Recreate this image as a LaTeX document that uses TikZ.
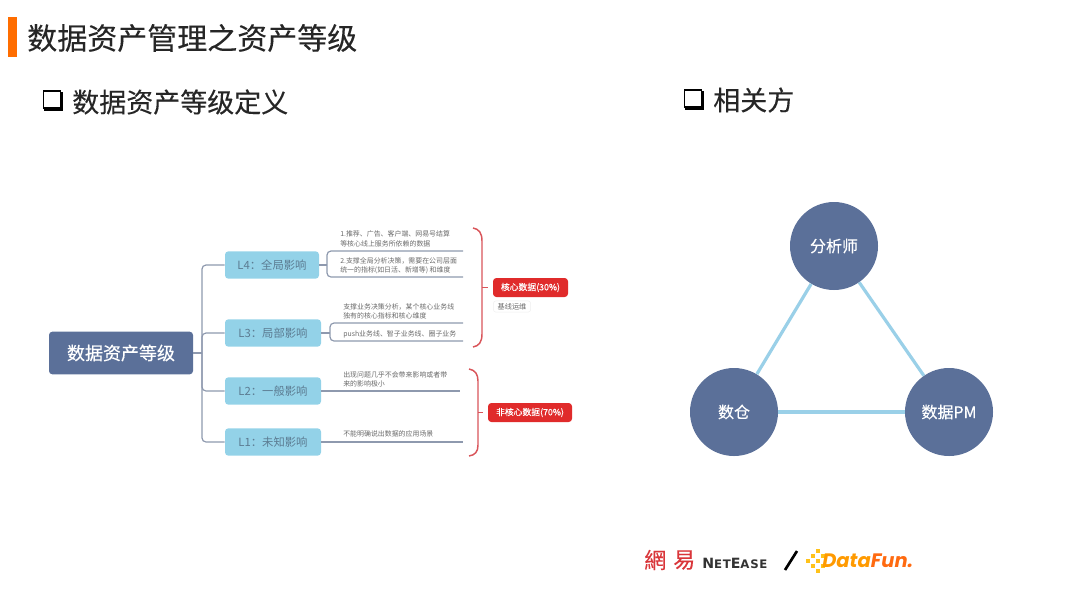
\documentclass[tikz,border=0pt]{standalone}
\usepackage{fontspec}
\setmainfont{Noto Sans CJK SC}
\newfontfamily\medfont[FakeBold=0.35]{Noto Sans CJK SC}
\newfontfamily\headfont[FakeBold=0.15]{Noto Sans CJK SC}
\newfontfamily\tcfont[FakeBold=0.4]{Noto Sans CJK TC}
\newfontfamily\nefont[LetterSpace=6]{DejaVu Sans}
\newfontfamily\dffont[FakeSlant=0.18]{Poppins}
\definecolor{barorange}{HTML}{FF6D00}
\definecolor{navy}{HTML}{5B7099}
\definecolor{sky}{HTML}{93D2E8}
\definecolor{skytext}{HTML}{5C7C92}
\definecolor{conn}{HTML}{8E99AE}
\definecolor{alert}{HTML}{E02B2B}
\definecolor{brace}{HTML}{D9555A}
\definecolor{note}{HTML}{6A6A6A}
\definecolor{halo}{HTML}{EFEFEF}
\definecolor{link}{HTML}{9AD0E8}
\definecolor{neteasered}{HTML}{D9363A}
\definecolor{dforange}{HTML}{FF9A00}
\definecolor{dfdeep}{HTML}{FF6A10}
\definecolor{dfyellow}{HTML}{FFC21A}
\tikzset{
  txt/.style={inner sep=0pt,anchor=west,text=black},
  heading/.style={txt,font=\headfont\fontsize{22.5}{24}\selectfont,text=black!85},
  subhead/.style={txt,font=\headfont\fontsize{20.25}{22}\selectfont,text=black!85},
  rootbox/.style={draw=none,fill=navy,rounded corners=2.5pt,inner sep=0pt,text=white,font=\medfont\fontsize{13.5}{15}\selectfont},
  levelbox/.style={draw=none,fill=sky,rounded corners=2.5pt,inner sep=0pt,text=skytext,font=\fontsize{8.5}{10}\selectfont},
  notetxt/.style={txt,text=note,font=\fontsize{5.2}{6}\selectfont},
  redbox/.style={fill=alert,rounded corners=2.5pt,inner sep=0pt,text=white,font=\medfont\fontsize{6.6}{8}\selectfont},
  tagbox/.style={draw=halo,line width=.4pt,fill=white,rounded corners=2pt,inner sep=0pt,text=note,font=\fontsize{5.4}{6}\selectfont},
  wire/.style={draw=conn,line width=.9pt,rounded corners=3pt},
  bracewire/.style={draw=brace,line width=1.1pt},
  ball/.style={circle,fill=navy,inner sep=0pt,minimum size=66pt,text=white,font=\medfont\fontsize{12}{14}\selectfont},
  spoke/.style={draw=link,line width=2.4pt},
}
\begin{document}
\begin{tikzpicture}[x=0.75pt,y=-0.75pt]
\useasboundingbox (0,0) rectangle (1080,608);
% title
\fill[barorange] (7.5,17) rectangle (17,57);
\node[heading] (title) at (27,38) {数据资产管理之资产等级};
\fill[black] (44,92) rectangle (63,111);
\draw[black,line width=1.1pt,fill=white] (43.5,91) rectangle (60.5,108);
\node[subhead] (sub1) at (72,102) {数据资产等级定义};
\fill[black] (685,91) rectangle (704,110);
\draw[black,line width=1.1pt,fill=white] (684.5,90) rectangle (701.5,107);
\node[subhead] (sub2) at (713,100) {相关方};
% mind map
\node[rootbox,minimum width=108pt,minimum height=32pt] (root) at (121,353) {数据资产等级};
\node[levelbox,minimum width=70.5pt,minimum height=20.5pt] (l4) at (272,265) {L4：全局影响};
\node[levelbox,minimum width=72pt,minimum height=20.5pt] (l3) at (273,333) {L3：局部影响};
\node[levelbox,minimum width=72pt,minimum height=20.5pt] (l2) at (273,391) {L2：一般影响};
\node[levelbox,minimum width=72pt,minimum height=20.5pt] (l1) at (273,442) {L1：未知影响};
\coordinate (trunk) at (202,353);
\draw[wire] (root.east) -- (trunk);
\draw[wire] (trunk) |- (l4.west);
\draw[wire] (trunk) |- (l3.west);
\draw[wire] (trunk) |- (l2.west);
\draw[wire] (trunk) |- (l1.west);
% leaf notes
\node[notetxt] (n1a) at (340,234) {1.推荐、广告、客户端、网易号结算};
\node[notetxt] (n1b) at (340,243.5) {等核心线上服务所依赖的数据};
\node[notetxt] (n2a) at (340,261) {2.支撑全局分析决策，需要在公司层面};
\node[notetxt] (n2b) at (340,270.5) {统一的指标(如日活、新增等) 和维度};
\node[notetxt] (n3a) at (343,307) {支撑业务决策分析，某个核心业务线};
\node[notetxt] (n3b) at (343,316) {独有的核心指标和核心维度};
\node[notetxt] (n4) at (343,334) {push业务线、智子业务线、圈子业务};
\node[notetxt] (n5a) at (343,375) {出现问题几乎不会带来影响或者带};
\node[notetxt] (n5b) at (343,384) {来的影响极小};
\node[notetxt] (n6) at (343,434) {不能明确说出数据的应用场景};
\coordinate (f4) at (327,265);
\coordinate (e4a) at (463,251);
\coordinate (e4b) at (463,277);
\coordinate (f3) at (330,333);
\coordinate (e3a) at (463,323);
\coordinate (e3b) at (463,341);
\coordinate (e2) at (460,391);
\coordinate (e1) at (463,442);
\draw[wire] (l4.east) -- (f4);
\draw[wire] (e4a) -| (f4) |- (e4b);
\draw[wire] (l3.east) -- (f3);
\draw[wire] (e3a) -| (f3) |- (e3b);
\draw[wire] (l2.east) -- (e2);
\draw[wire] (l1.east) -- (e1);
% outcome boxes
\node[redbox,minimum width=56.25pt,minimum height=14.25pt] (core) at (530.5,287.5) {核心数据(30\%)};
\node[tagbox,minimum width=28pt,minimum height=8.5pt] (base) at (512,306.5) {基线运维};
\node[redbox,minimum width=63pt,minimum height=14.25pt] (noncore) at (530,412.5) {非核心数据(70\%)};
\coordinate (b1) at (488,287.5);
\coordinate (b2) at (483,412.5);
\draw[bracewire] (473,228) .. controls (479,229) and (482,233) .. (482,241) -- (482,334) .. controls (482,342) and (479,346) .. (473,347);
\draw[bracewire] (482,287.5) -- (b1);
\draw[bracewire] (469,369) .. controls (475,370) and (478,374) .. (478,381) -- (478,445) .. controls (478,452) and (475,455) .. (469,456);
\draw[bracewire] (478,412.5) -- (b2);
% stakeholders
\node[ball] (analyst) at (834,246) {分析师};
\node[ball] (dw) at (734,412) {数仓};
\node[ball] (pm) at (949,412) {数据PM};
\draw[spoke] (analyst) -- (dw);
\draw[spoke] (analyst) -- (pm);
\draw[spoke] (dw) -- (pm);
% logos
\node[txt,text=neteasered,font=\tcfont\fontsize{16.5}{18}\selectfont] (wy1) at (644,560) {網};
\node[txt,text=neteasered,font=\tcfont\fontsize{16.5}{18}\selectfont] (wy2) at (673,560) {易};
\node[txt,text=black!80,font=\nefont\bfseries\fontsize{10.6}{12}\selectfont] (ne) at (702,563.5) {N{\fontsize{8.8}{10}\selectfont ET}E{\fontsize{8.8}{10}\selectfont ASE}};
\draw[black,line width=2pt] (785,570) -- (797,551);
\foreach \px/\py in {808/561,813/556,813/566,818/561,818/551,823/556,823/566,818/571}
  \fill[dfyellow] (\px-1.6,\py-1.6) rectangle (\px+1.6,\py+1.6);
\node[txt,text=dforange,font=\dffont\bfseries\fontsize{14.6}{17}\selectfont] (df) at (821,561) {Data\textcolor{dfdeep}{Fun.}};
\end{tikzpicture}
\end{document}
